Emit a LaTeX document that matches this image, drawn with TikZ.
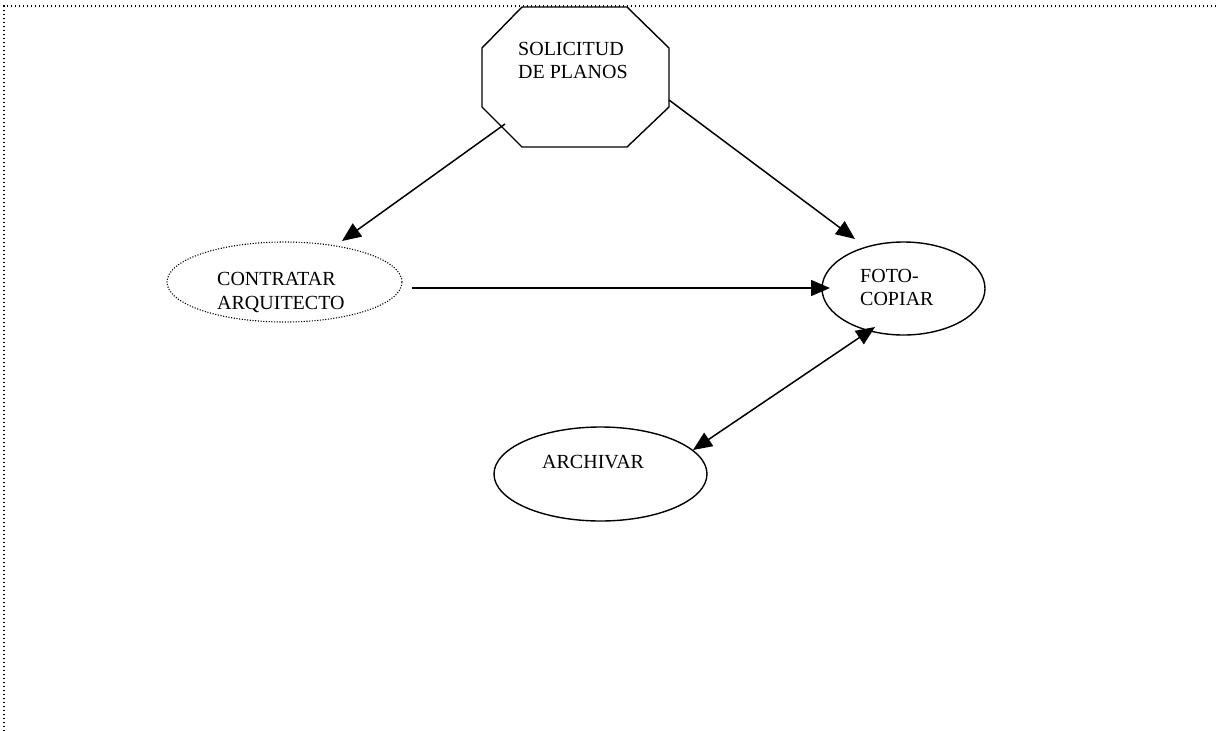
\documentclass[tikz,border=0pt]{standalone}
\usepackage{fontspec}
\setmainfont{Liberation Serif}
\usetikzlibrary{shapes.geometric,arrows.meta}
\tikzset{
  frameline/.style={line width=1.3pt, dash pattern=on 1.3pt off 2.7pt},
  shapeline/.style={draw, line width=1.4pt},
  dotline/.style={draw, line width=1.1pt, dash pattern=on 1.1pt off 1.6pt},
  oval/.style={ellipse, inner sep=0pt},
  label/.style={anchor=base west, inner sep=0pt, align=left,
                font=\fontsize{20}{23.5}\selectfont},
  flow/.style={line width=1.5pt, -{Triangle[length=19pt,width=16pt]}},
  twoway/.style={line width=1.5pt, {Triangle[length=19pt,width=16pt]}-{Triangle[length=19pt,width=16pt]}}
}
\begin{document}
\begin{tikzpicture}[x=1pt,y=-1pt]
\useasboundingbox (0,0) rectangle (1219,731);

% dotted page frame
\draw[frameline] (4,731) -- (4,6) -- (1219,6);

% octagon
\draw[shapeline, line join=miter]
  (522,7) -- (627,7) -- (669,48) -- (669,107) -- (627,147)
  -- (522,147) -- (482,107) -- (482,48) -- cycle;
% two-line labels sit on the baseline of their last line
\node[label] (solicitud) at (518,78.5) {SOLICITUD\\DE PLANOS};
\coordinate (solA) at (505,124);
\coordinate (solB) at (669,100);

% ellipses
\node[oval, dotline, minimum width=235pt, minimum height=80pt] (contratar) at (284.5,282) {};
\node[label] (contratarT) at (217,309) {CONTRATAR\\ARQUITECTO};

\node[oval, shapeline, minimum width=163pt, minimum height=93pt] (foto) at (903.5,288.5) {};
\node[label] (fotoT) at (860,305.5) {FOTO-\\COPIAR};

\node[oval, shapeline, minimum width=213pt, minimum height=94pt] (archivar) at (600.5,474) {};
\node[label] (archivarT) at (542,468) {ARCHIVAR};

% connector end points
\coordinate (tipC) at (342,241);
\coordinate (tipF) at (855,239);
\coordinate (outC) at (412,288);
\coordinate (inF) at (830,288);
\coordinate (tipA) at (693,450);
\coordinate (tipF2) at (875,327);

% connectors
\draw[flow] (solA) -- (tipC);
\draw[flow] (solB) -- (tipF);
\draw[flow] (outC) -- (inF);
\draw[twoway] (tipA) -- (tipF2);
\end{tikzpicture}
\end{document}
